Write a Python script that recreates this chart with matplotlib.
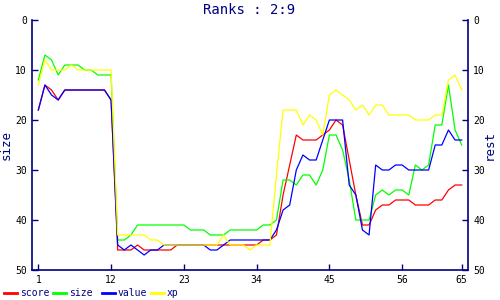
import numpy as np
import matplotlib
matplotlib.use("Agg")
import matplotlib.pyplot as plt
from matplotlib.lines import Line2D

# data, one value per rank step
steps = list(range(1, 66))
score = [18, 13, 14, 16, 14, 14, 14, 14, 14, 14, 14, 16,
         46, 46, 46, 45, 46, 46, 46, 46, 46, 45, 45, 45, 45, 45, 45, 45, 45, 45, 45, 45, 45,
         45, 44, 44, 43, 35, 29, 23, 24, 24, 24, 23, 22, 20, 21, 28, 35, 41,
         41, 38, 37, 37, 36, 36, 36, 37, 37, 37, 36, 36, 34, 33, 33]
size = [12, 7, 8, 11, 9, 9, 9, 10, 10, 11, 11, 11,
        44, 44, 43, 41, 41, 41, 41, 41, 41, 41, 41, 42, 42, 42, 43, 43, 43, 42, 42, 42, 42,
        42, 41, 41, 40, 32, 32, 33, 31, 31, 33, 30, 23, 23, 26, 32, 40, 40,
        40, 35, 34, 35, 34, 34, 35, 29, 30, 29, 21, 21, 13, 22, 25]
value = [18, 13, 15, 16, 14, 14, 14, 14, 14, 14, 14, 16,
         45, 46, 45, 46, 47, 46, 46, 45, 45, 45, 45, 45, 45, 45, 46, 46, 45, 44, 44, 44, 44,
         44, 44, 44, 42, 38, 37, 30, 27, 28, 28, 24, 20, 20, 20, 33, 35, 42,
         43, 29, 30, 30, 29, 29, 30, 30, 30, 30, 25, 25, 22, 24, 24]
xp = [13, 8, 10, 10, 10, 9, 10, 10, 10, 10, 10, 10,
      43, 43, 43, 43, 43, 44, 44, 45, 45, 45, 45, 45, 45, 45, 45, 45, 43, 45, 45, 45, 46,
      45, 45, 45, 31, 18, 18, 18, 21, 19, 20, 23, 15, 14, 15, 16, 18, 17,
      19, 17, 17, 19, 19, 19, 19, 20, 20, 20, 19, 19, 12, 11, 14]

names = ["score", "size", "value", "xp"]
colors = ["#ff0000", "#00ff00", "#0000ff", "#ffff00"]
xticks = [1, 12, 23, 34, 45, 56, 65]
yticks = [0, 10, 20, 30, 40, 50]

navy = "#000080"
font = "DejaVu Sans Mono"

fig = plt.figure(figsize=(5, 3), dpi=100)
ax = fig.add_axes([0.0634, 0.1, 0.8732, 0.8333])

for name, c, ys in zip(names, colors, [score, size, value, xp]):
    ax.plot(steps, ys, color=c, lw=0.9, label=name)

ax.set_xlim(0, 66)
ax.set_ylim(50, 0)
ax.set_xticks(xticks)
ax.set_yticks(yticks)
ax.spines["top"].set_visible(False)
for s in ["left", "right", "bottom"]:
    ax.spines[s].set_color(navy)
    ax.spines[s].set_linewidth(1.2)
ax.tick_params(direction="in", length=4, width=1, color=navy, labelsize=7)
for lab in ax.get_xticklabels() + ax.get_yticklabels():
    lab.set_family(font)
ax.set_ylabel("size", color=navy, fontsize=9, family=font, labelpad=2)

# right hand axis, same scale
ax2 = ax.twinx()
ax2.set_ylim(50, 0)
ax2.set_yticks(yticks)
for s in ax2.spines.values():
    s.set_visible(False)
ax2.tick_params(direction="in", length=4, width=1, color=navy, labelsize=7)
for lab in ax2.get_yticklabels():
    lab.set_family(font)
fig.text(0.979, 0.517, "rest", rotation=90, ha="center", va="center",
         color=navy, fontsize=9, family=font)

fig.text(0.498, 0.968, "Ranks : 2:9", ha="center", va="center",
         color=navy, fontsize=10, family=font)

# legend strip along the bottom
for k, (name, c) in enumerate(zip(names, colors)):
    x0 = (4 + 49 * k) / 500
    fig.add_artist(Line2D([x0, x0 + 13 / 500], [0.025, 0.025], color=c, lw=2,
                          transform=fig.transFigure))
    fig.text(x0 + 16 / 500, 0.025, name, color=navy, fontsize=7, family=font,
             va="center", ha="left")

fig.savefig("out.png", dpi=100)
